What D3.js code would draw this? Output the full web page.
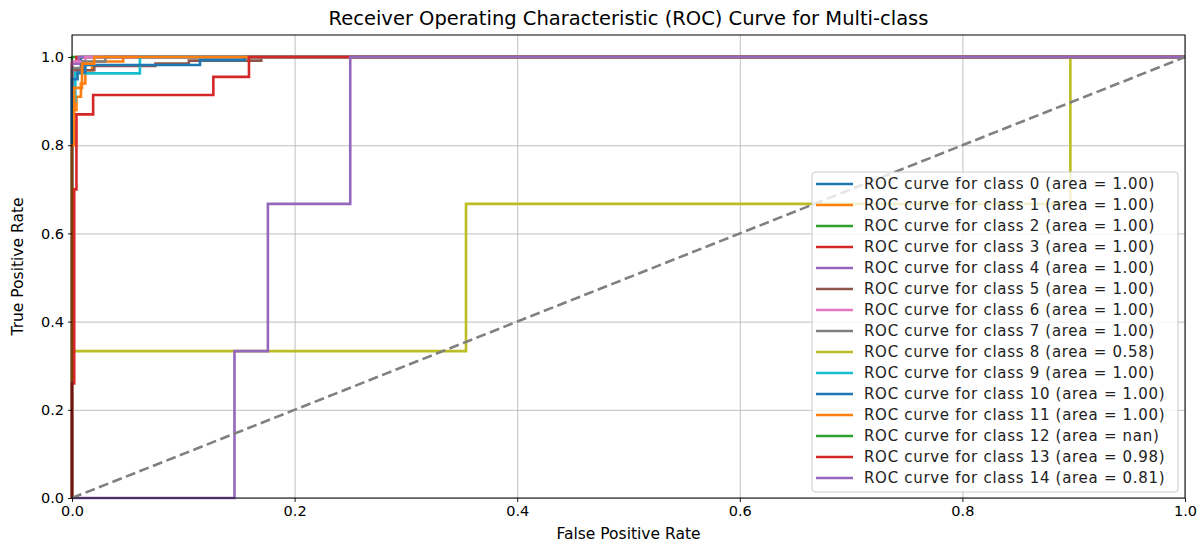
<!doctype html>
<html lang="en">
<head>
<meta charset="utf-8">
<title>ROC Curve for Multi-class</title>
<script src="https://cdn.jsdelivr.net/npm/d3@7"></script>
<style>
	body { margin: 0; background: #fff; }
	text { font-family: "DejaVu Sans", sans-serif; fill: #000; }
	.grid line { stroke: #b0b0b0; stroke-width: 0.8; }
	.grid path { display: none; }
</style>
</head>
<body>
<div id="viz"></div>
<script>
// DATA
var classNames = ["0","1","2","3","4","5","6","7","8","9","10","11","12","13","14"];
var areaLabels = ["1.00","1.00","1.00","1.00","1.00","1.00","1.00","1.00","0.58","1.00","1.00","1.00","nan","0.98","0.81"];
var xTicks = [0, 0.2, 0.4, 0.6, 0.8, 1.0];
var yTicks = [0, 0.2, 0.4, 0.6, 0.8, 1.0];

// fpr / tpr per class
var fpr0  = [0, 0, 0.008, 0.008, 1];
var tpr0  = [0, 0.97, 0.97, 1, 1];
var fpr1  = [0, 0, 0.004, 0.004, 0.008, 0.008, 0.012, 0.012, 0.018, 0.018, 0.046, 0.046, 1];
var tpr1  = [0, 0.88, 0.88, 0.91, 0.91, 0.94, 0.94, 0.97, 0.97, 0.99, 0.99, 1, 1];
var fpr2  = [0, 0, 1];
var tpr2  = [0, 1, 1];
var fpr3  = [0, 0, 0.004, 0.004, 1];
var tpr3  = [0, 0.985, 0.985, 1, 1];
var fpr4  = [0, 0, 0.006, 0.006, 1];
var tpr4  = [0, 0.985, 0.985, 1, 1];
var fpr5  = [0, 0, 0.02, 0.02, 0.075, 0.075, 0.105, 0.105, 0.17, 0.17, 1];
var tpr5  = [0, 0.97, 0.97, 0.98, 0.98, 0.985, 0.985, 0.992, 0.992, 1, 1];
var fpr6  = [0, 0, 0.012, 0.012, 1];
var tpr6  = [0, 0.99, 0.99, 1, 1];
var fpr7  = [0, 0, 0.01, 0.01, 0.03, 0.03, 1];
var tpr7  = [0, 0.975, 0.975, 0.99, 0.99, 1, 1];
var fpr8  = [0, 0, 0.354, 0.354, 0.897, 0.897, 1];
var tpr8  = [0, 0.333, 0.333, 0.667, 0.667, 1, 1];
var fpr9  = [0, 0, 0.003, 0.003, 0.061, 0.061, 1];
var tpr9  = [0, 0.9, 0.9, 0.963, 0.963, 1, 1];
var fpr10 = [0, 0, 0.005, 0.005, 0.012, 0.012, 0.115, 0.115, 0.155, 0.155, 1];
var tpr10 = [0, 0.95, 0.95, 0.965, 0.965, 0.982, 0.982, 0.993, 0.993, 1, 1];
var fpr11 = [0, 0, 0.002, 0.002, 0.009, 0.009, 0.02, 0.02, 1];
var tpr11 = [0, 0.8, 0.8, 0.93, 0.93, 0.985, 0.985, 1, 1];
var fpr12 = [];
var tpr12 = [];
var fpr13 = [0, 0, 0.002, 0.002, 0.004, 0.004, 0.019, 0.019, 0.127, 0.127, 0.159, 0.159, 1];
var tpr13 = [0, 0.26, 0.26, 0.7, 0.7, 0.87, 0.87, 0.914, 0.914, 0.955, 0.955, 1, 1];
var fpr14 = [0, 0.146, 0.146, 0.176, 0.176, 0.25, 0.25, 1];
var tpr14 = [0, 0, 0.333, 0.333, 0.667, 0.667, 1, 1];

var fprs = [fpr0, fpr1, fpr2, fpr3, fpr4, fpr5, fpr6, fpr7, fpr8, fpr9, fpr10, fpr11, fpr12, fpr13, fpr14];
var tprs = [tpr0, tpr1, tpr2, tpr3, tpr4, tpr5, tpr6, tpr7, tpr8, tpr9, tpr10, tpr11, tpr12, tpr13, tpr14];

(function(d3) {

	var w = 1202, h = 543;
	var margin = {top: 35, right: 17, bottom: 45, left: 72};
	var width = w - margin.left - margin.right,
		height = h - margin.top - margin.bottom;

	// tab10 cycle
	var colors = d3.schemeCategory10;

	var xScale = d3.scaleLinear().domain([0, 1]).range([0, width]);
	var yScale = d3.scaleLinear().domain([0, 1.05]).range([height, 0]);

	var svg = d3.select("#viz").append("svg")
		.attr("width", w)
		.attr("height", h);

	var g = svg.append("g")
		.attr("transform", "translate(" + margin.left + "," + margin.top + ")");

	// GRID
	g.append("g")
		.attr("class", "grid")
		.attr("transform", "translate(0," + height + ")")
		.call(d3.axisBottom(xScale).tickValues(xTicks).tickSize(-height).tickFormat(""));
	g.append("g")
		.attr("class", "grid")
		.call(d3.axisLeft(yScale).tickValues(yTicks).tickSize(-width).tickFormat(""));

	// CURVES
	var line = d3.line()
		.x(function(d) { return xScale(d[0]); })
		.y(function(d) { return yScale(d[1]); });

	svg.append("clipPath").attr("id", "plotClip")
		.append("rect").attr("x", -2).attr("y", 0).attr("width", width + 4).attr("height", height + 2);

	var curves = g.append("g").attr("clip-path", "url(#plotClip)");

	classNames.forEach(function(c, i) {
		var pts = d3.zip(fprs[i], tprs[i]);
		if (!pts.length) return;
		curves.append("path")
			.datum(pts)
			.attr("d", line)
			.attr("fill", "none")
			.attr("stroke", colors[i % 10])
			.attr("stroke-width", 2.6);
	});

	// chance diagonal
	curves.append("path")
		.datum([[0, 0], [1, 1]])
		.attr("d", line)
		.attr("fill", "none")
		.attr("stroke", "#808080")
		.attr("stroke-width", 2.6)
		.attr("stroke-dasharray", "10,4.5");

	// AXES
	var xAxis = g.append("g")
		.attr("transform", "translate(0," + height + ")")
		.call(d3.axisBottom(xScale).tickValues(xTicks).tickSize(4).tickPadding(4).tickFormat(d3.format(".1f")));
	var yAxis = g.append("g")
		.call(d3.axisLeft(yScale).tickValues(yTicks).tickSize(4).tickPadding(4).tickFormat(d3.format(".1f")));
	[xAxis, yAxis].forEach(function(a) {
		a.select(".domain").remove();
		a.selectAll(".tick line").attr("stroke", "#000").attr("stroke-width", 0.9);
		a.selectAll(".tick text")
			.attr("fill", "#222")
			.style("font-size", "14.5px")
			.style("font-family", "'DejaVu Sans', sans-serif");
	});

	// frame
	g.append("rect")
		.attr("width", width)
		.attr("height", height)
		.attr("fill", "none")
		.attr("stroke", "#000")
		.attr("stroke-width", 1);

	// LABELS
	svg.append("text")
		.attr("x", margin.left + width / 2)
		.attr("y", 25)
		.attr("text-anchor", "middle")
		.style("font-size", "19.5px")
		.text("Receiver Operating Characteristic (ROC) Curve for Multi-class");

	svg.append("text")
		.attr("x", margin.left + width / 2)
		.attr("y", 539)
		.attr("text-anchor", "middle")
		.style("font-size", "15.5px")
		.text("False Positive Rate");

	svg.append("text")
		.attr("transform", "translate(23," + (margin.top + height / 2) + ") rotate(-90)")
		.attr("text-anchor", "middle")
		.style("font-size", "15.5px")
		.text("True Positive Rate");

	// LEGEND
	var lx = 812 - margin.left, ly = 172 - margin.top, lw = 366, rowH = 21;
	var legend = g.append("g").attr("transform", "translate(" + lx + "," + ly + ")");
	legend.append("rect")
		.attr("width", lw)
		.attr("height", 320)
		.attr("rx", 3)
		.attr("fill", "#fff")
		.attr("fill-opacity", 0.8)
		.attr("stroke", "#cccccc")
		.attr("stroke-width", 1);

	var rows = legend.selectAll(".row")
		.data(classNames)
		.enter()
		.append("g")
		.attr("transform", function(d, i) { return "translate(0," + (12 + i * rowH) + ")"; });
	rows.append("line")
		.attr("x1", 4).attr("x2", 41)
		.attr("y1", 0).attr("y2", 0)
		.attr("stroke", function(d, i) { return colors[i % 10]; })
		.attr("stroke-width", 2.6);
	rows.append("text")
		.attr("x", 52)
		.attr("dy", "0.35em")
		.style("font-size", "15px")
		.style("letter-spacing", "0.7px")
		.style("fill", "#222")
		.text(function(d, i) { return "ROC curve for class " + d + " (area = " + areaLabels[i] + ")"; });

})(d3);
</script>
</body>
</html>
